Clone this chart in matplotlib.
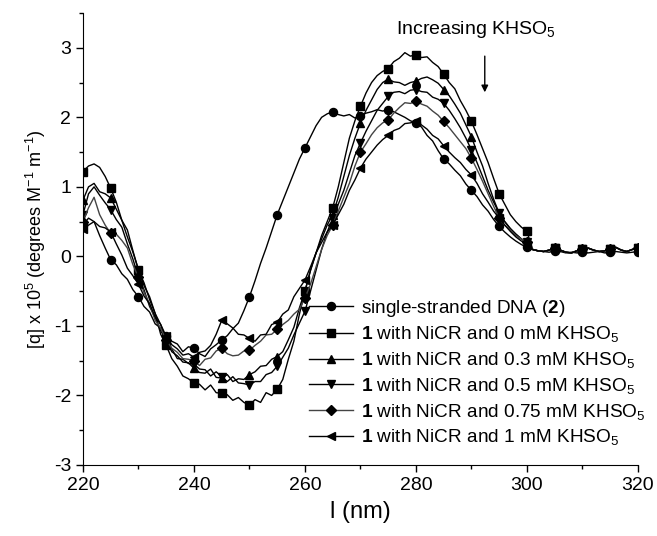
import numpy as np
import matplotlib
matplotlib.use("Agg")
import matplotlib.pyplot as plt
from matplotlib.ticker import MultipleLocator

plt.rcParams['font.family'] = ['Liberation Sans', 'DejaVu Sans']
plt.rcParams['mathtext.fontset'] = 'custom'
plt.rcParams['mathtext.rm'] = 'Liberation Sans'
plt.rcParams['mathtext.it'] = 'Liberation Sans'
plt.rcParams['mathtext.bf'] = 'Liberation Sans:bold'
plt.rcParams['axes.unicode_minus'] = False

# wavelength (nm), 1 nm steps
wavelength = np.arange(220, 321)

tail = [0.1, 0.08, 0.07, 0.09, 0.12, 0.09, 0.06, 0.05, 0.08, 0.1,
        0.12, 0.09, 0.07, 0.08, 0.11, 0.13, 0.09, 0.07, 0.1, 0.12]

ss_dna = [0.45, 0.55, 0.5, 0.3, 0.12, -0.05, -0.12, -0.25, -0.33, -0.48,
          -0.58, -0.72, -0.8, -0.97, -1.03, -1.15, -1.22, -1.26, -1.37, -1.3,
          -1.32, -1.4, -1.44, -1.33, -1.27, -1.2, -1.14, -1.04, -0.96, -0.78,
          -0.58, -0.35, -0.1, 0.12, 0.36, 0.6, 0.8, 1.0, 1.2, 1.4,
          1.56, 1.72, 1.88, 2.0, 2.05, 2.08, 2.04, 2.02, 2.04, 1.99,
          2.02, 2.06, 2.08, 2.11, 2.09, 2.11, 2.08, 2.04, 2.0, 1.95,
          1.92, 1.86, 1.74, 1.66, 1.52, 1.4, 1.33, 1.24, 1.16, 1.04,
          0.95, 0.86, 0.74, 0.65, 0.53, 0.43, 0.35, 0.28, 0.22, 0.17,
          0.13] + [0.1, 0.08, 0.07, 0.06, 0.08, 0.07, 0.05, 0.06, 0.05, 0.06,
                   0.05, 0.06, 0.07, 0.05, 0.06, 0.07, 0.06, 0.05, 0.06, 0.07]

mm_0 = [1.22, 1.3, 1.33, 1.28, 1.15, 0.98, 0.78, 0.52, 0.38, 0.08,
        -0.2, -0.38, -0.62, -0.82, -1.12, -1.28, -1.47, -1.58, -1.72, -1.76,
        -1.82, -1.84, -1.92, -1.85, -1.96, -1.97, -1.99, -2.07, -2.03, -2.1,
        -2.14, -2.06, -2.1, -1.96, -2.0, -1.91, -1.77, -1.48, -1.22, -0.83,
        -0.5, -0.2, 0.05, 0.3, 0.5, 0.7, 1.0, 1.35, 1.7, 1.95,
        2.16, 2.35, 2.5, 2.6, 2.66, 2.7, 2.8, 2.85, 2.93, 2.88,
        2.9, 2.86, 2.87, 2.79, 2.73, 2.62, 2.5, 2.41, 2.24, 2.1,
        1.94, 1.75, 1.55, 1.35, 1.12, 0.9, 0.75, 0.6, 0.5, 0.42,
        0.36] + tail

mm_03 = [0.81, 1.0, 1.05, 0.93, 0.9, 0.84, 0.68, 0.52, 0.28, 0.06,
         -0.19, -0.42, -0.58, -0.82, -0.98, -1.2, -1.37, -1.43, -1.52, -1.53,
         -1.61, -1.67, -1.68, -1.62, -1.74, -1.75, -1.7, -1.8, -1.76, -1.77,
         -1.7, -1.66, -1.58, -1.57, -1.48, -1.44, -1.37, -1.2, -1.02, -0.74,
         -0.5, -0.2, 0.05, 0.25, 0.45, 0.6, 0.85, 1.15, 1.45, 1.7,
         1.92, 2.1, 2.25, 2.4, 2.5, 2.55, 2.51, 2.5, 2.46, 2.5,
         2.52, 2.56, 2.58, 2.54, 2.49, 2.4, 2.31, 2.19, 2.06, 1.89,
         1.72, 1.5, 1.3, 1.05, 0.82, 0.62, 0.5, 0.4, 0.32, 0.25,
         0.2] + tail

mm_05 = [0.6, 0.9, 1.0, 0.88, 0.77, 0.67, 0.53, 0.42, 0.18, -0.04,
         -0.3, -0.48, -0.72, -0.88, -1.07, -1.2, -1.33, -1.47, -1.48, -1.54,
         -1.55, -1.62, -1.63, -1.72, -1.66, -1.73, -1.8, -1.73, -1.82, -1.83,
         -1.85, -1.8, -1.8, -1.7, -1.67, -1.58, -1.45, -1.32, -1.13, -0.96,
         -0.79, -0.5, -0.2, 0.1, 0.35, 0.55, 0.75, 0.95, 1.2, 1.45,
         1.63, 1.8, 1.95, 2.1, 2.2, 2.3, 2.36, 2.37, 2.34, 2.39,
         2.4, 2.37, 2.36, 2.29, 2.26, 2.2, 2.1, 1.98, 1.85, 1.7,
         1.53, 1.35, 1.15, 0.95, 0.78, 0.62, 0.5, 0.4, 0.32, 0.25,
         0.2] + tail

mm_075 = [0.5, 0.7, 0.85, 0.6, 0.45, 0.33, 0.32, 0.23, 0.12, -0.12,
          -0.3, -0.52, -0.68, -0.92, -1.03, -1.2, -1.32, -1.38, -1.47, -1.48,
          -1.5, -1.57, -1.48, -1.46, -1.36, -1.32, -1.4, -1.43, -1.42, -1.36,
          -1.35, -1.28, -1.22, -1.13, -1.12, -1.05, -0.98, -0.92, -0.83, -0.76,
          -0.6, -0.4, -0.15, 0.1, 0.3, 0.45, 0.65, 0.85, 1.05, 1.3,
          1.5, 1.62, 1.75, 1.85, 1.92, 1.96, 2.06, 2.14, 2.21, 2.2,
          2.23, 2.19, 2.16, 2.09, 2.03, 1.94, 1.85, 1.75, 1.65, 1.55,
          1.41, 1.25, 1.08, 0.9, 0.72, 0.55, 0.45, 0.38, 0.3, 0.25,
          0.2] + tail

mm_1 = [0.4, 0.45, 0.5, 0.43, 0.41, 0.35, 0.18, 0.02, -0.17, -0.28,
        -0.4, -0.57, -0.68, -0.87, -0.98, -1.15, -1.27, -1.33, -1.42, -1.4,
        -1.45, -1.38, -1.36, -1.28, -1.12, -0.92, -0.97, -1.03, -1.12, -1.13,
        -1.18, -1.22, -1.13, -1.12, -0.98, -0.95, -0.83, -0.77, -0.58, -0.46,
        -0.34, -0.15, 0.05, 0.2, 0.35, 0.45, 0.6, 0.75, 0.95, 1.1,
        1.27, 1.4, 1.5, 1.6, 1.68, 1.74, 1.81, 1.84, 1.91, 1.92,
        1.95, 1.89, 1.83, 1.74, 1.69, 1.59, 1.5, 1.42, 1.35, 1.25,
        1.17, 1.05, 0.9, 0.78, 0.65, 0.55, 0.45, 0.36, 0.28, 0.22,
        0.17] + tail

labels = ['single-stranded DNA ($\\mathbf{2}$)',
          '$\\mathbf{1}$ with NiCR and 0 mM KHSO$_5$',
          '$\\mathbf{1}$ with NiCR and 0.3 mM KHSO$_5$',
          '$\\mathbf{1}$ with NiCR and 0.5 mM KHSO$_5$',
          '$\\mathbf{1}$ with NiCR and 0.75 mM KHSO$_5$',
          '$\\mathbf{1}$ with NiCR and 1 mM KHSO$_5$']
series = [ss_dna, mm_0, mm_03, mm_05, mm_075, mm_1]
markers = ['o', 's', '^', 'v', 'D', '<']
colors = ['black', 'black', 'black', 'black', '#444444', 'black']

fig = plt.figure(figsize=(6.57, 5.36), dpi=100)
ax = fig.add_axes([0.1263, 0.1325, 0.8447, 0.8432])

for vals, m, c, lab in zip(series, markers, colors, labels):
    ms = 5.8 if m != 'D' else 5.0
    ax.plot(wavelength, vals, color=c, lw=1.0, marker=m, markevery=5,
            markersize=ms, markerfacecolor='black', markeredgecolor='black',
            label=lab)

ax.set_xlim(220, 320)
ax.set_ylim(-3, 3.5)
ax.xaxis.set_major_locator(MultipleLocator(20))
ax.xaxis.set_minor_locator(MultipleLocator(10))
ax.yaxis.set_minor_locator(MultipleLocator(0.5))
ax.set_yticks([-3, -2, -1, 0, 1, 2, 3])
ax.spines['top'].set_visible(False)
ax.spines['right'].set_visible(False)
ax.tick_params(which='major', direction='out', length=5, width=1, labelsize=14)
ax.tick_params(which='minor', direction='out', length=3, width=1)

ax.set_xlabel('l (nm)', fontsize=17, labelpad=5)
ax.set_ylabel('[q] x 10$^5$ (degrees M$^{-1}$ m$^{-1}$)', fontsize=13, labelpad=4)

ax.annotate('', xy=(292.4, 2.32), xytext=(292.4, 2.92),
            arrowprops=dict(arrowstyle='-|>', color='black', lw=1.0,
                            mutation_scale=10))
ax.text(276.4, 3.26, 'Increasing KHSO$_5$', fontsize=14, va='center', ha='left')

ax.legend(loc='upper left', bbox_to_anchor=(0.408, 0.37), frameon=False,
          fontsize=13.7, handlelength=2.3, handletextpad=0.4, labelspacing=0.3,
          borderpad=0, borderaxespad=0)

plt.savefig('out.png', dpi=100)
